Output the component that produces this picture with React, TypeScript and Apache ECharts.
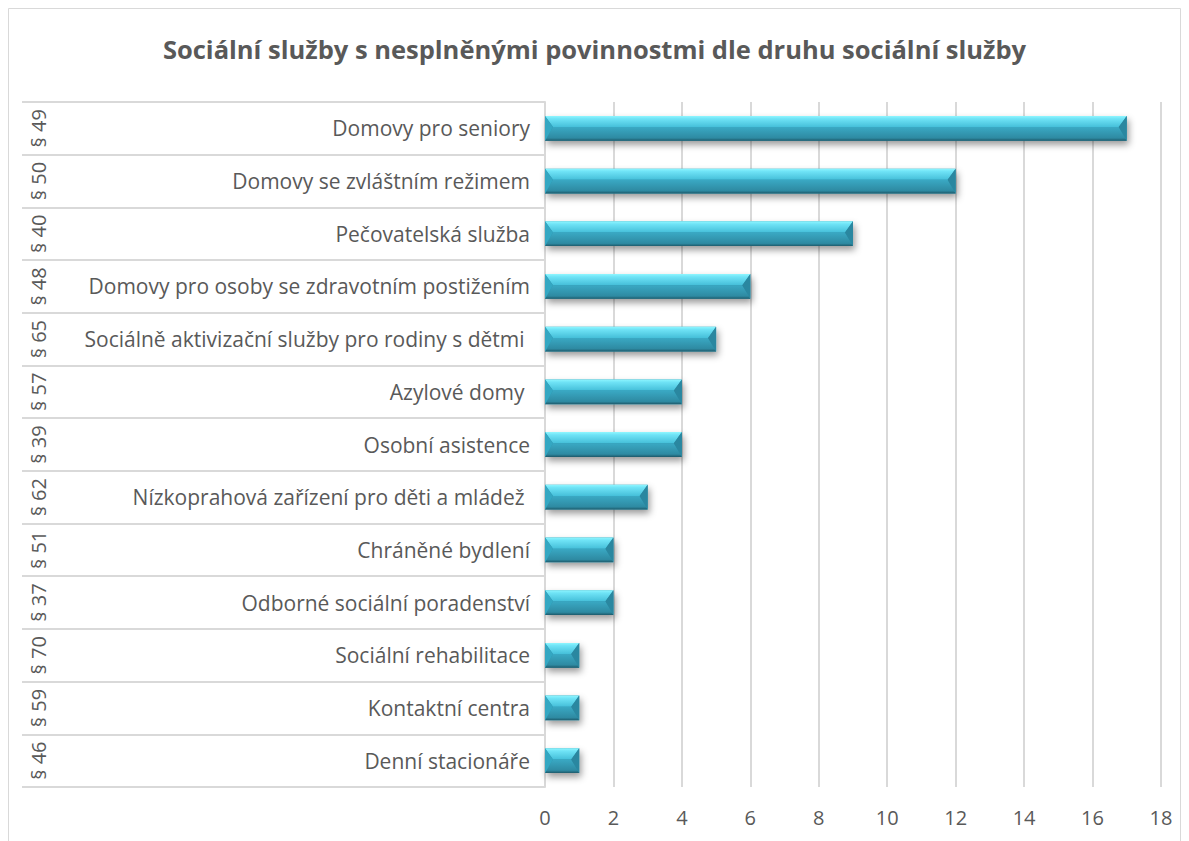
import React, { useEffect, useRef } from "react";
import * as echarts from "echarts";

const titleText = "Sociální služby s nesplněnými povinnostmi dle druhu sociální služby";
const codes = ["§ 49", "§ 50", "§ 40", "§ 48", "§ 65", "§ 57", "§ 39", "§ 62", "§ 51", "§ 37", "§ 70", "§ 59", "§ 46"];
const names = [
  "Domovy pro seniory",
  "Domovy se zvláštním režimem",
  "Pečovatelská služba",
  "Domovy pro osoby se zdravotním postižením",
  "Sociálně aktivizační služby pro rodiny s dětmi ",
  "Azylové domy ",
  "Osobní asistence",
  "Nízkoprahová zařízení pro děti a mládež ",
  "Chráněné bydlení",
  "Odborné sociální poradenství",
  "Sociální rehabilitace",
  "Kontaktní centra",
  "Denní stacionáře",
];
const values = [17, 12, 9, 6, 5, 4, 4, 3, 2, 2, 1, 1, 1];
const xMin = 0;
const xMax = 18;
const xStep = 2;

const FONT = "'Open Sans', sans-serif";
const TEXT = "#595959";
const GRID = "#d9d9d9";

export default function App() {
  const ref = useRef<HTMLDivElement>(null);
  useEffect(() => {
    if (!ref.current) return;
    const chart = echarts.init(ref.current, null, { renderer: "svg" });
    const renderItem = (params: any, api: any) => {
      const v = api.value(0);
      const idx = api.value(1);
      const s = api.coord([0, idx]);
      const e = api.coord([v, idx]);
      const band = api.size([0, 1])[1];
      const h = band * 0.47;
      const x0 = s[0];
      const x1 = e[0];
      const y0 = s[1] - h / 2;
      const y1 = s[1] + h / 2;
      const ym = y0 + h * 0.45;
      const bx = Math.min(8, (x1 - x0) / 2);
      return {
        type: "group",
        children: [
          {
            type: "rect",
            shape: { x: x0, y: y0, width: x1 - x0, height: h },
            style: {
              fill: "#2f8fa8",
              shadowBlur: 7,
              shadowOffsetX: 2,
              shadowOffsetY: 4,
              shadowColor: "rgba(0,0,0,0.4)",
            },
          },
          {
            type: "polygon",
            shape: { points: [[x0, y0], [x1, y0], [x1 - bx, ym], [x0 + bx, ym]] },
            style: {
              fill: new echarts.graphic.LinearGradient(0, 0, 0, 1, [
                { offset: 0, color: "#8ff6ff" },
                { offset: 0.25, color: "#6fe3f6" },
                { offset: 1, color: "#45bfd9" },
              ]),
            },
          },
          {
            type: "polygon",
            shape: { points: [[x0, y1], [x1, y1], [x1 - bx, ym], [x0 + bx, ym]] },
            style: {
              fill: new echarts.graphic.LinearGradient(0, 0, 0, 1, [
                { offset: 0, color: "#3aa9c4" },
                { offset: 0.8, color: "#2e8aa2" },
                { offset: 1, color: "#1d5a6b" },
              ]),
            },
          },
          {
            type: "polygon",
            shape: { points: [[x0, y0], [x0 + bx, ym], [x0, y1]] },
            style: { fill: "#34a7c2" },
          },
          {
            type: "polygon",
            shape: { points: [[x1, y0], [x1 - bx, ym], [x1, y1]] },
            style: { fill: "#2a87a0" },
          },
        ],
      };
    };

    chart.setOption({
      animation: false,
      backgroundColor: "#ffffff",
      title: {
        text: titleText,
        left: "center",
        top: 31,
        textStyle: { fontFamily: FONT, fontSize: 25.5, fontWeight: "bold", color: TEXT },
      },
      graphic: [
        {
          type: "rect",
          shape: { x: 8.5, y: 8.5, width: 1172, height: 840 },
          style: { fill: "none", stroke: GRID, lineWidth: 1 },
          silent: true,
        },
      ],
      grid: { left: 545, right: 28, top: 102, bottom: 54 },
      xAxis: {
        type: "value",
        min: xMin,
        max: xMax,
        interval: xStep,
        axisLine: { show: false },
        axisTick: { show: false },
        splitLine: { show: true, lineStyle: { color: GRID, width: 2 } },
        axisLabel: { color: TEXT, fontFamily: FONT, fontSize: 20, margin: 20 },
      },
      yAxis: [
        {
          type: "category",
          data: names,
          inverse: true,
          position: "left",
          axisLine: { show: true, lineStyle: { color: GRID, width: 2 } },
          axisTick: { show: true, inside: false, length: 523, lineStyle: { color: GRID, width: 2 } },
          axisLabel: { color: TEXT, fontFamily: FONT, fontSize: 21, margin: 15 },
          splitLine: { show: false },
        },
        {
          type: "category",
          data: codes,
          inverse: true,
          position: "left",
          axisLine: { show: false },
          axisTick: { show: false },
          axisLabel: {
            color: TEXT,
            fontFamily: FONT,
            fontSize: 20,
            rotate: 90,
            margin: 507,
            align: "center",
            verticalAlign: "middle",
          },
          splitLine: { show: false },
        },
      ],
      series: [
        {
          type: "custom",
          renderItem,
          xAxisIndex: 0,
          yAxisIndex: 0,
          encode: { x: 0, y: 1 },
          data: values.map((v, i) => [v, i]),
        },
      ],
    });
    return () => chart.dispose();
  }, []);
  return (
    <div
      ref={ref}
      style={{ position: "fixed", left: 0, top: 0, width: 1189, height: 841 }}
    />
  );
}
